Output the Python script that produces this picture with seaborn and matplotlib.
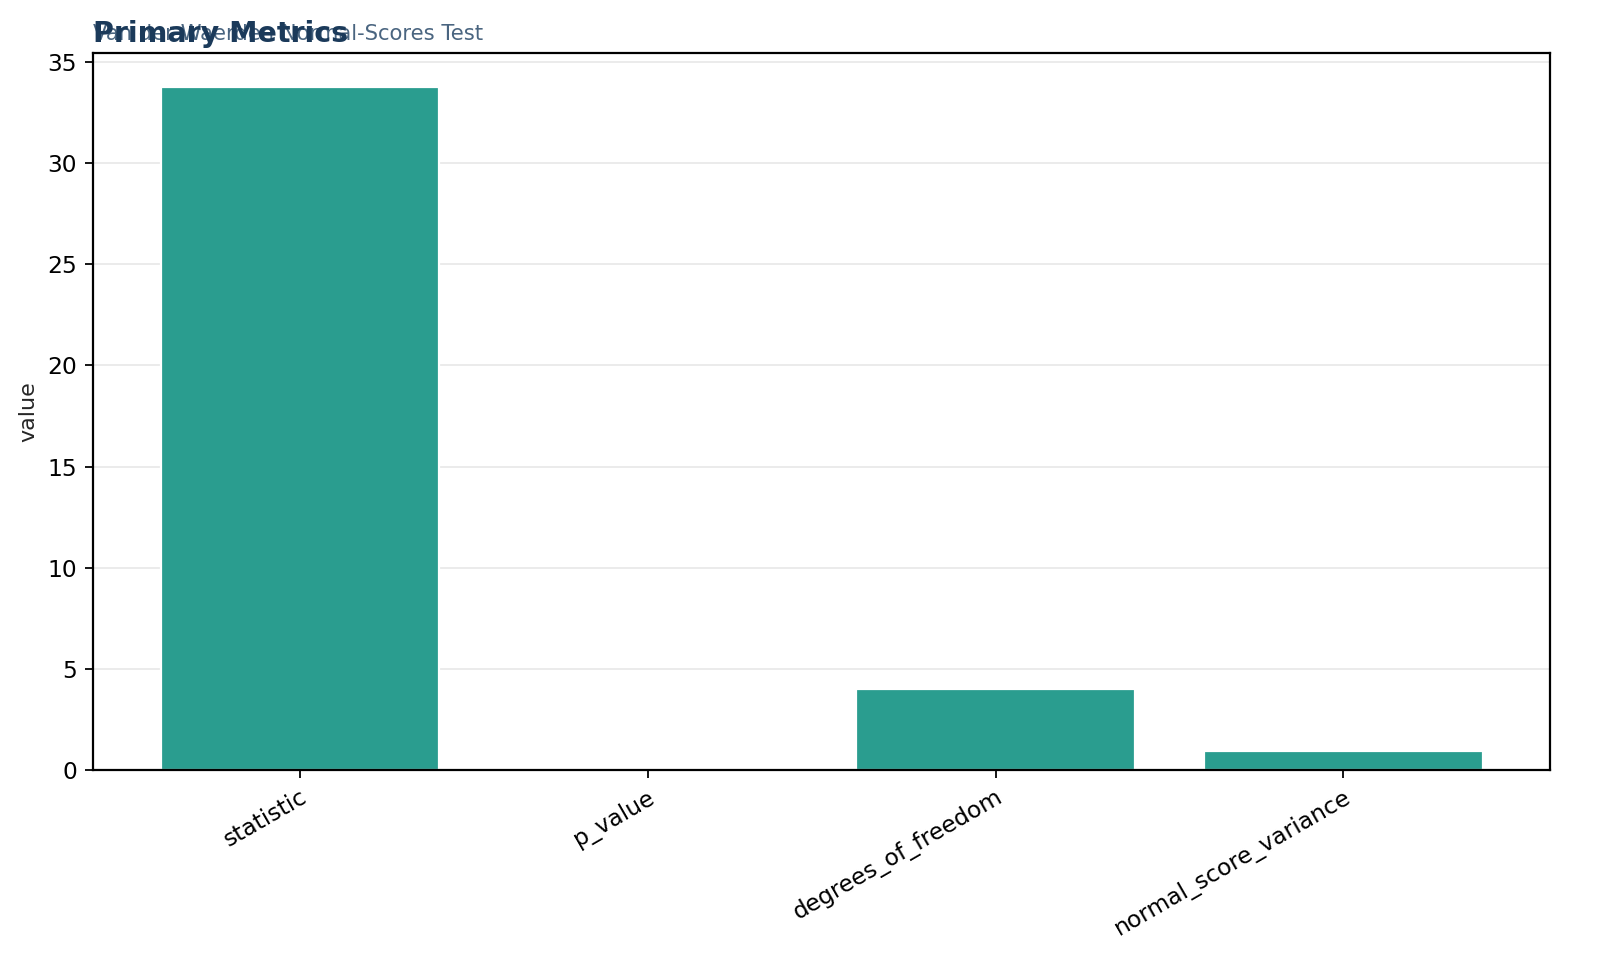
import pandas as pd
import matplotlib
matplotlib.use("Agg")
import matplotlib.pyplot as plt
import seaborn as sns

# --- DATA ---
metrics = ["statistic", "p_value", "degrees_of_freedom", "normal_score_variance"]
values = [33.76, 0.00001, 4.0, 0.94]

df = pd.DataFrame({"metric": metrics, "value": values})

# --- PLOT ---
sns.set_style("ticks")
plt.rcParams["font.family"] = ["DejaVu Sans"]

fig, ax = plt.subplots(figsize=(10, 6.1125), dpi=160)
fig.subplots_adjust(left=0.058, right=0.969, top=0.946, bottom=0.2127)

sns.barplot(data=df, x="metric", y="value", color="#2a9d8f", saturation=1,
            width=0.8, ax=ax, zorder=2)

ax.set_xlim(-0.595, 3.595)
ax.set_ylim(0, 33.76 * 1.05)
ax.yaxis.grid(True, color="#ebebeb", linewidth=0.9, zorder=0)
ax.set_axisbelow(True)

for s in ax.spines.values():
    s.set_visible(True)
    s.set_color("black")
    s.set_linewidth(1.0)

ax.set_xlabel("")
ax.set_ylabel("value", fontsize=10)
ax.tick_params(axis="both", labelsize=10.5, colors="black", direction="out")
plt.setp(ax.get_xticklabels(), rotation=30, ha="right", rotation_mode="anchor")

ax.set_title("Primary Metrics", loc="left", fontsize=12.8, fontweight="bold",
             color="#1b3a5a", pad=5)
ax.text(0, 1.012, "Van der Waerden Normal-Scores Test", transform=ax.transAxes,
        fontsize=9.5, color="#4a6580", ha="left", va="bottom")

fig.savefig("out.png", dpi=160)
